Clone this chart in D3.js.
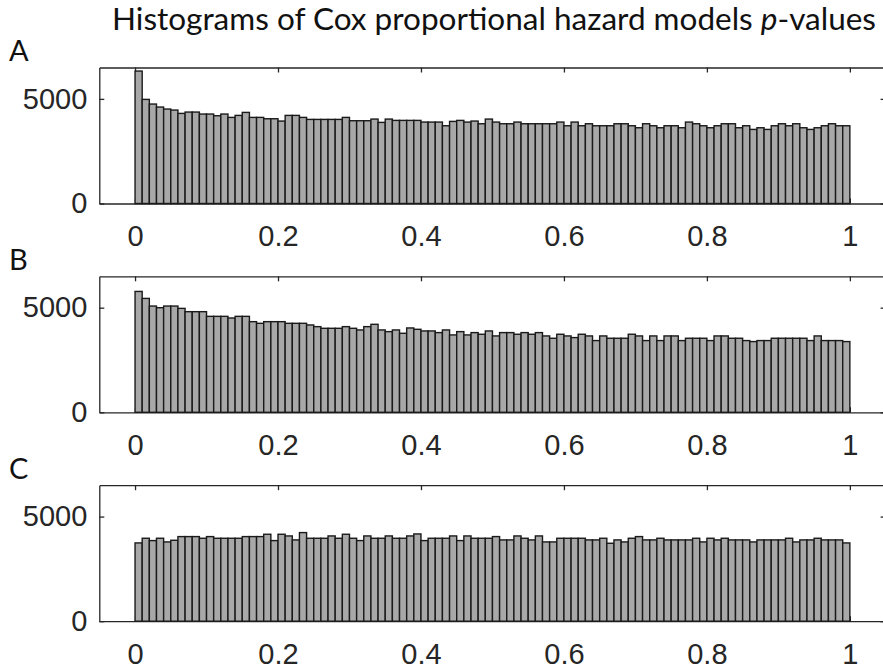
<!DOCTYPE html>
<html>
<head>
<meta charset="utf-8">
<script src="https://cdn.jsdelivr.net/npm/d3@7"></script>
<style>
  html, body { margin: 0; padding: 0; background: #ffffff; }
  svg { display: block; }
</style>
</head>
<body>
<svg id="chart" width="883" height="670"></svg>
<script>
// ---- data ----
const title = "Histograms of Cox proportional hazard models ";
const titleItalic = "p";
const titleEnd = "-values";
const panelLabels = ["A", "B", "C"];
const xTicks = [0, 0.2, 0.4, 0.6, 0.8, 1];
const yTicks = [0, 5000];
const binCount = 100;

const countsA = [
  6330, 4976, 4753, 4610, 4514, 4466, 4306, 4370, 4370, 4275,
  4275, 4195, 4275, 4115, 4211, 4354, 4115, 4115, 4051, 4051,
  3940, 4211, 4211, 4115, 4019, 4019, 4019, 4019, 4019, 4115,
  3956, 3956, 3956, 4035, 3876, 4035, 3972, 3972, 3972, 3972,
  3892, 3892, 3892, 3716, 3924, 3972, 3892, 3940, 3812, 4035,
  3892, 3812, 3812, 3892, 3812, 3812, 3812, 3812, 3812, 3892,
  3716, 3892, 3716, 3812, 3716, 3716, 3716, 3812, 3812, 3716,
  3621, 3812, 3716, 3621, 3716, 3716, 3621, 3892, 3812, 3716,
  3621, 3716, 3812, 3812, 3621, 3716, 3541, 3621, 3541, 3716,
  3812, 3716, 3812, 3621, 3541, 3621, 3716, 3812, 3716, 3716
];

const countsB = [
  5777, 5443, 5078, 4999, 5078, 5078, 4967, 4809, 4809, 4809,
  4586, 4586, 4586, 4507, 4586, 4586, 4332, 4253, 4332, 4332,
  4332, 4253, 4253, 4253, 4174, 4094, 4015, 4015, 4015, 4094,
  4015, 3936, 4094, 4205, 3936, 3856, 3936, 3777, 4031, 3967,
  3888, 3888, 3809, 3936, 3698, 3856, 3698, 3809, 3730, 3888,
  3650, 3809, 3809, 3730, 3809, 3730, 3809, 3650, 3539, 3730,
  3650, 3571, 3730, 3650, 3428, 3650, 3539, 3539, 3539, 3730,
  3650, 3428, 3650, 3428, 3650, 3650, 3428, 3539, 3539, 3539,
  3428, 3650, 3650, 3539, 3539, 3428, 3380, 3428, 3428, 3539,
  3539, 3539, 3539, 3539, 3428, 3650, 3428, 3428, 3428, 3380
];

const countsC = [
  3741, 3964, 3853, 3964, 3789, 3868, 4044, 4044, 4044, 3964,
  4044, 3964, 3964, 3964, 3964, 4044, 4044, 4044, 4155, 3853,
  4155, 4075, 3885, 4235, 3964, 3964, 3964, 4075, 3964, 4155,
  3964, 3853, 4075, 3964, 3964, 4075, 3964, 3964, 4075, 4170,
  3853, 3964, 3964, 3964, 4075, 3853, 4075, 3964, 3964, 3964,
  4044, 3885, 3885, 4075, 3964, 3885, 4075, 3789, 3789, 3964,
  3964, 3964, 3964, 3885, 3885, 3964, 3725, 3885, 3789, 3964,
  4044, 3885, 3885, 3964, 3885, 3885, 3885, 3885, 3964, 3789,
  3964, 3885, 3964, 3885, 3885, 3885, 3789, 3885, 3885, 3885,
  3885, 3964, 3789, 3885, 3885, 3964, 3885, 3885, 3885, 3741
];

const panelData = [countsA, countsB, countsC];

// ---- layout ----
const svg = d3.select("#chart");
const axisColor = "#262626";
const barFill = "#a8a8a8";
const barStroke = "#1a1a1a";
const left = 99.3, right = 885.6;
const panelTops = [67.5, 276.3, 485.2];
const panelH = 136;

const x = d3.scaleLinear().domain([-0.05, 1.05]).range([left, right]);

// title
const t = svg.append("text")
  .attr("x", 112).attr("y", 30)
  .attr("font-family", "Lato, 'Open Sans', sans-serif")
  .attr("font-size", 31)
  .attr("fill", "#111")
  .attr("textLength", 764)
  .attr("lengthAdjust", "spacingAndGlyphs");
t.append("tspan").text(title);
t.append("tspan").attr("font-style", "italic").text(titleItalic);
t.append("tspan").text(titleEnd);

panelData.forEach((counts, pi) => {
  const top = panelTops[pi];
  const bottom = top + panelH;
  const y = d3.scaleLinear().domain([0, 6500]).range([bottom, top]);
  const g = svg.append("g");

  // panel letter
  svg.append("text")
    .attr("x", 9).attr("y", top - 6.5)
    .attr("font-family", "Lato, 'Open Sans', sans-serif")
    .attr("font-size", 29)
    .attr("fill", "#111")
    .text(panelLabels[pi]);

  const styleAxis = sel => {
    sel.attr("font-family", "'Liberation Sans', Arial, sans-serif").attr("font-size", 29);
    sel.selectAll("path.domain").attr("stroke", axisColor).attr("stroke-width", 1.3);
    sel.selectAll(".tick line").attr("stroke", axisColor).attr("stroke-width", 1.3);
    sel.selectAll(".tick text")
      .attr("fill", axisColor)
      .attr("font-family", "'Liberation Sans', Arial, sans-serif")
      .attr("font-size", 29);
  };

  // bottom axis with labels
  g.append("g").attr("transform", `translate(0,${bottom})`)
    .call(d3.axisBottom(x).tickValues(xTicks).tickSizeInner(-5).tickSizeOuter(0)
      .tickPadding(22).tickFormat(d3.format("")))
    .call(styleAxis);
  // top axis
  g.append("g").attr("transform", `translate(0,${top})`)
    .call(d3.axisTop(x).tickValues(xTicks).tickSizeInner(-5).tickSizeOuter(0).tickFormat(""))
    .call(styleAxis);
  // left axis
  g.append("g").attr("transform", `translate(${left},0)`)
    .call(d3.axisLeft(y).tickValues(yTicks).tickSizeInner(-5).tickSizeOuter(0)
      .tickPadding(12).tickFormat(d3.format("d")))
    .call(styleAxis);
  // right axis
  g.append("g").attr("transform", `translate(${right},0)`)
    .call(d3.axisRight(y).tickValues(yTicks).tickSizeInner(-5).tickSizeOuter(0).tickFormat(""))
    .call(styleAxis);

  // bars
  g.append("g").selectAll("rect")
    .data(counts)
    .join("rect")
    .attr("x", (d, i) => x(i / binCount))
    .attr("width", (d, i) => x((i + 1) / binCount) - x(i / binCount))
    .attr("y", d => y(d))
    .attr("height", d => bottom - y(d))
    .attr("fill", barFill)
    .attr("stroke", barStroke)
    .attr("stroke-width", 1.4);
});
</script>
</body>
</html>
